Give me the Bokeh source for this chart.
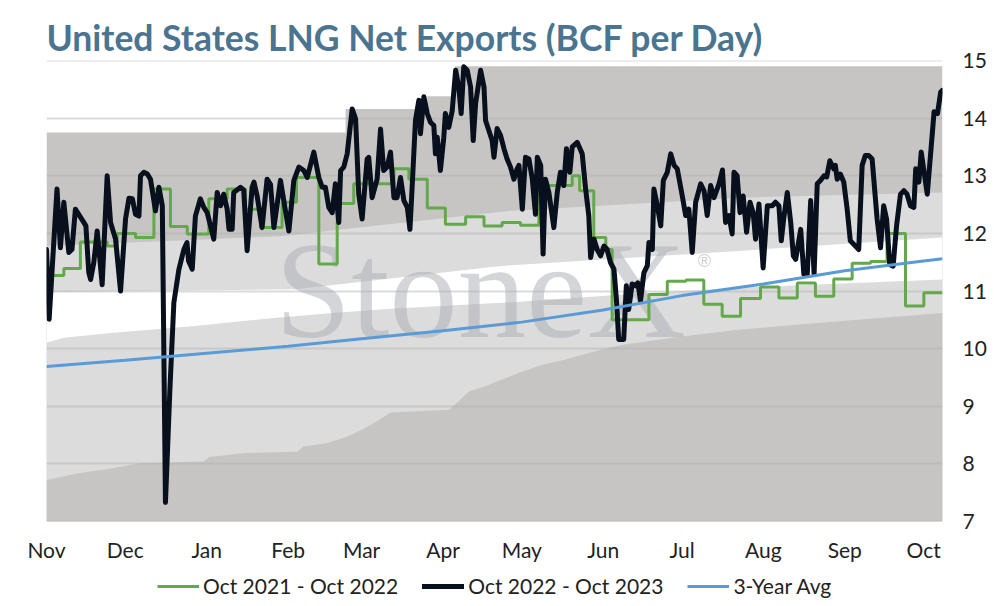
from bokeh.plotting import figure
from bokeh.layouts import column
from bokeh.models import Range1d, FixedTicker, Legend, LegendItem
from bokeh.core.properties import value
from bokeh.embed import file_html
from bokeh.resources import INLINE

# x = days since Nov 1 (2022)
month_days = [0, 30, 61, 92, 120, 151, 181, 212, 242, 273, 304, 334]
month_names = ["Nov", "Dec", "Jan", "Feb", "Mar", "Apr", "May", "Jun", "Jul", "Aug", "Sep", "Oct"]
y_ticks = [7, 8, 9, 10, 11, 12, 13, 14, 15]
x_end = 341.2

# Oct 2022 - Oct 2023 (daily, black)
black_days = [0, 1, 4, 5.3, 6.6, 8.5, 9.7, 11, 14.2, 15, 16.1, 16.8, 18, 19.3, 21.2, 23.1, 24.4, 26.3, 28.2, 30.1,
              31.4, 32.7, 33.9, 35.2, 35.8, 37.1, 38.4, 39.6, 41.5, 42.8, 44.1, 45.3, 47.0, 48.5, 50.4, 52.3, 53.5,
              54.1, 55.5, 56.7, 58.6, 59.9, 61.2, 63.7, 65, 66.3, 67.5, 68.8, 69.5, 70.7, 71.3, 73.9, 75.1, 76.4,
              78.3, 79, 80.2, 82.1, 84, 85.3, 86.6, 89.1, 91, 92.3, 94.2, 96.1, 98, 99.3, 101.8, 103.7, 105, 106.2,
              107.5, 108.8, 110, 111.3, 112, 113.2, 114.5, 116.4, 117.7, 118.9, 120.2, 122.1, 122.7, 124, 125.9,
              127.2, 128.4, 129.7, 131, 132.3, 133.5, 134.8, 136.1, 137.4, 138.4, 139.3, 140.5, 141.8, 142.4,
              143.7, 145, 146.2, 147.5, 148.1, 148.8, 150, 151.3, 151.9, 153.2, 154.5, 155.8, 157, 157.9, 158.9,
              160.2, 161.5, 162.5, 163.4, 165.3, 166.6, 167.2, 169.7, 170.4, 171.6, 172.9, 174.2, 175.4, 176.7,
              178, 179.2, 179.9, 181.2, 182.4, 183.7, 185, 186.2, 186.9, 188.2, 189.1, 190, 191.3, 193.2, 194.5,
              195.7, 197, 198, 199.3, 200.2, 202.1, 204, 205.3, 206.5, 207.2, 208.5, 209.7, 211, 212.3, 213.5,
              214.8, 216.1, 217.1, 217.9, 219.8, 220.8, 221.7, 223, 224.3, 225.2, 226.2, 227.5, 228.8, 229.4,
              230.7, 231.3, 232.6, 233.9, 234.9, 236.4, 237.7, 239, 240.2, 242.1, 243.4, 244.6, 245.9, 247.2,
              249.1, 250.4, 251.6, 252.9, 254.2, 256.1, 257.4, 258.6, 259.9, 261.1, 261.8, 263, 264.1, 265.3,
              266.6, 267.9, 269.1, 270, 271.3, 272.9, 274.5, 276.4, 277.6, 278.9, 279.8, 280.8, 282.1, 283.4,
              284.4, 285.3, 287.2, 288.4, 289.7, 291, 292.3, 293.5, 294.8, 296.1, 297.1, 298.3, 299.8, 300.4,
              301.1, 302.3, 303.6, 304.9, 306.1, 307.4, 309.3, 310.6, 311.8, 313.1, 314.4, 316.3, 317.6, 318.8,
              319.9, 321.1, 322.4, 323.7, 325.2, 326.5, 327.7, 329, 330.3, 331, 332.2, 333.1, 334.2, 335.4, 338,
              339.3, 340.5, 341.1]
black_vals = [11.72, 10.51, 12.77, 11.75, 12.54, 11.67, 11.72, 12.42, 12.19, 12.13, 11.32, 11.2, 11.49, 12.04, 11.11,
              13.0, 12.19, 11.9, 11.0, 12.25, 12.61, 12.6, 12.33, 12.3, 13.0, 13.06, 13.03, 12.94, 12.39, 12.8, 12.48,
              7.33, 9.3, 10.8, 11.37, 11.72, 11.84, 11.52, 11.38, 12.3, 12.6, 12.45, 12.36, 11.9, 12.71, 12.48,
              12.68, 12.42, 12.07, 12.07, 12.71, 12.8, 12.75, 11.7, 12.8, 12.89, 12.65, 12.1, 12.94, 12.85, 12.1,
              12.92, 12.39, 12.04, 12.92, 13.15, 13.09, 12.97, 13.41, 12.97, 12.8, 12.8, 12.45, 12.36, 12.86, 12.19,
              13.09, 13.15, 13.38, 14.16, 13.99, 12.68, 12.25, 13.29, 13.32, 12.62, 12.94, 13.81, 13.09, 13.15,
              13.41, 12.62, 12.62, 12.97, 12.57, 12.45, 12.07, 12.86, 13.96, 14.31, 13.73, 14.37, 14.08, 13.93,
              13.87, 13.38, 13.67, 13.09, 13.67, 14.08, 13.84, 14.13, 14.83, 14.54, 14.08, 14.89, 14.83, 14.54,
              13.61, 14.25, 14.83, 14.54, 13.96, 13.61, 13.32, 13.82, 13.7, 13.47, 13.29, 13.15, 12.94, 13.12,
              13.18, 12.42, 13.32, 13.29, 12.94, 12.33, 13.32, 13.18, 11.64, 12.94, 12.71, 12.1, 12.71, 13.06,
              12.83, 13.47, 13.06, 13.5, 13.58, 13.38, 12.77, 12.31, 11.58, 11.9, 11.72, 11.61, 11.78, 11.72,
              11.49, 11.38, 10.8, 10.16, 10.16, 11.09, 10.68, 11.12, 11.09, 11.14, 10.83, 11.32, 11.44, 11.84,
              11.72, 12.77, 12.48, 12.13, 12.92, 13.06, 13.38, 13.18, 13.12, 12.65, 12.31, 12.42, 11.67, 12.54,
              12.86, 12.74, 12.31, 12.83, 12.62, 12.86, 13.1, 12.19, 12.31, 11.99, 13.06, 13.0, 12.36, 12.65,
              12.02, 12.54, 12.36, 11.9, 12.51, 11.4, 12.48, 12.48, 12.54, 12.48, 11.87, 12.28, 12.71, 12.19,
              11.61, 11.55, 12.07, 11.29, 11.29, 12.57, 11.29, 12.86, 12.92, 13.0, 12.98, 13.26, 13.12, 13.18,
              12.94, 13.03, 12.89, 12.42, 11.87, 11.81, 11.72, 13.18, 13.35, 13.35, 13.29, 12.25, 11.75, 12.48,
              12.25, 11.46, 11.43, 12.13, 12.68, 12.74, 12.68, 12.48, 12.45, 13.12, 12.89, 13.41, 13.06, 12.68,
              14.11, 14.08, 14.45, 14.48]

# Oct 2021 - Oct 2022 (weekly steps, green)
green_days = [0, 6.6, 12.9, 23.1, 26.9, 33.9, 40.9, 47.2, 53.6, 61.8, 68.8, 75.8, 81.5, 89.7, 95.2, 103.7, 110.7,
              117, 132.3, 138, 145, 151.9, 159.6, 166.6, 173.5, 180.5, 187.5, 200.2, 203, 208.4, 213, 215.4, 229.4,
              236.4, 243.5, 250.3, 257.3, 264.3, 271.9, 278.9, 285.9, 292.8, 299.8, 306.8, 313.8, 320.1, 327.1,
              334.1, 341.2]
green_vals = [11.27, 11.39, 11.85, 11.78, 12.0, 11.93, 12.77, 12.12, 11.99, 12.6, 12.77, 12.42, 12.1, 12.54, 12.97,
              11.47, 12.52, 12.86, 13.12, 12.94, 12.44, 12.16, 12.29, 12.13, 12.19, 12.14, 12.83, 13.0, 12.74, 11.93,
              11.72, 10.5, 10.94, 11.17, 11.19, 10.77, 10.56, 10.87, 11.07, 10.88, 11.14, 10.91, 11.21, 11.48, 11.51,
              12.0, 10.74, 10.97, 10.97]

# 3-year average (blue)
avg_days = [0, 30, 61, 92, 120, 151, 181, 212, 242, 273, 304, 334, 341.2]
avg_vals = [9.69, 9.8, 9.92, 10.04, 10.17, 10.31, 10.46, 10.67, 10.92, 11.12, 11.35, 11.52, 11.56]

# range bands (top step edge, then the smooth edges going down)
band_top_days = [0, 113.9, 145, 155.5, x_end]
band_top_vals = [13.75, 14.16, 14.38, 14.9, 14.9]
band_hi_days = [0, 89, 176, 264, x_end]
band_hi_vals = [11.78, 11.95, 12.39, 12.62, 12.71]
white_top_days = [0, 95, 172, 265, x_end]
white_top_vals = [10.98, 11.03, 11.43, 11.7, 11.93]
white_bot_days = [0, 6.6, 24.4, 55.5, 86.6, 108.8, 131, 175.4, 219.9, 264.3, x_end]
white_bot_vals = [10.1, 10.19, 10.27, 10.39, 10.53, 10.62, 10.69, 10.8, 10.94, 11.06, 11.2]
band_lo_days = [0, 11, 24.4, 35.5, 59.9, 62, 75.4, 95.5, 97.7, 106.6, 114.4, 118.8, 125.5, 131, 153.2, 155.4, 161,
                166.6, 179.9, 188.8, 197.7, 211, 219.9, 242.1, 264.3, 286.6, 308.8, x_end]
band_lo_vals = [7.72, 7.83, 7.92, 8.01, 8.04, 8.12, 8.19, 8.21, 8.3, 8.36, 8.47, 8.56, 8.73, 8.89, 8.94, 9.02, 9.26,
                9.34, 9.58, 9.72, 9.81, 9.98, 10.07, 10.21, 10.33, 10.42, 10.5, 10.62]

DARK = "#c6c5c4"
LIGHT = "#dcdcdc"
GREEN = "#63a84a"
BLACK = "#07101c"
BLUE = "#5b9bd5"

p = figure(width=990, height=566, output_backend="svg", toolbar_location=None,
           x_range=Range1d(0, x_end), y_range=Range1d(7, 15), y_axis_location="right",
           min_border_left=46, min_border_right=48, min_border_top=60, min_border_bottom=45)
p.outline_line_color = None
p.xgrid.visible = False
p.ygrid.visible = False

p.title.text = "United States LNG Net Exports (BCF per Day)"
p.title.text_font = "Lato"
p.title.text_font_style = "bold"
p.title.text_font_size = "35.5px"
p.title.text_color = "#4a7490"
p.title.align = "left"
p.title.standoff = 4

# bands, painted bottom-up over each other
p.varea_step(x=band_top_days, y1=7, y2=band_top_vals, step_mode="after", fill_color=DARK)
p.varea(x=band_hi_days, y1=7, y2=band_hi_vals, fill_color=LIGHT)
p.varea(x=white_top_days, y1=7, y2=white_top_vals, fill_color="white")
p.varea(x=white_bot_days, y1=7, y2=white_bot_vals, fill_color=LIGHT)
p.varea(x=band_lo_days, y1=7, y2=band_lo_vals, fill_color=DARK)

# grid lines above the bands
p.hspan(y=y_ticks, line_color="#b0b0b0", line_alpha=0.45, line_width=2)

# watermark
p.text(x=[87], y=[11.0], text=["StoneX"], text_font=value("Liberation Serif"), text_font_size="137px",
       text_color="#a9abb3", text_alpha=0.5, text_baseline="middle")
p.text(x=[248], y=[11.52], text=["®"], text_font=value("Liberation Sans"), text_font_size="18px",
       text_color="#a9abb3", text_alpha=0.6, text_baseline="middle")

g = p.step(green_days, green_vals, mode="after", line_color=GREEN, line_width=3)
b = p.line(black_days, black_vals, line_color=BLACK, line_width=5, line_join="round", line_cap="round")
a = p.line(avg_days, avg_vals, line_color=BLUE, line_width=3)

p.xaxis.ticker = FixedTicker(ticks=month_days)
p.xaxis.major_label_overrides = {d: m for d, m in zip(month_days, month_names)}
p.yaxis.ticker = FixedTicker(ticks=y_ticks)
for ax in (p.xaxis, p.yaxis):
    ax.axis_line_color = None
    ax.major_tick_line_color = None
    ax.minor_tick_line_color = None
    ax.major_tick_out = 0
    ax.major_tick_in = 0
    ax.minor_tick_out = 0
    ax.major_label_text_font = "Lato"
    ax.major_label_text_font_size = "21px"
    ax.major_label_text_color = "#222222"
p.xaxis.major_label_standoff = 15
p.yaxis.major_label_standoff = 20

# legend strip under the chart (its own small figure so nothing clips it);
# the sample renderers hold one point each, kept outside the strip's view
leg = figure(width=990, height=32, output_backend="svg", toolbar_location=None,
             x_range=Range1d(-2, -1), y_range=Range1d(-2, -1),
             x_axis_location=None, y_axis_location=None, min_border=0)
leg.outline_line_color = None
leg.grid.visible = False
lg = leg.line(green_days[:1], green_vals[:1], line_color=GREEN, line_width=3)
lb = leg.line(black_days[:1], black_vals[:1], line_color=BLACK, line_width=5, line_cap="round")
la = leg.line(avg_days[:1], avg_vals[:1], line_color=BLUE, line_width=3)
legend = Legend(items=[LegendItem(label="Oct 2021 - Oct 2022", renderers=[lg]),
                       LegendItem(label="Oct 2022 - Oct 2023", renderers=[lb]),
                       LegendItem(label="3-Year Avg", renderers=[la])],
                orientation="horizontal", location=(111, 0), glyph_width=42, glyph_height=20,
                label_standoff=4, spacing=24, padding=0, margin=0, border_line_alpha=0,
                background_fill_alpha=0, label_text_font="Lato", label_text_font_size="21px",
                label_text_color="#222222")
leg.add_layout(legend)

open("out.html", "w").write(file_html(column(p, leg), INLINE))
